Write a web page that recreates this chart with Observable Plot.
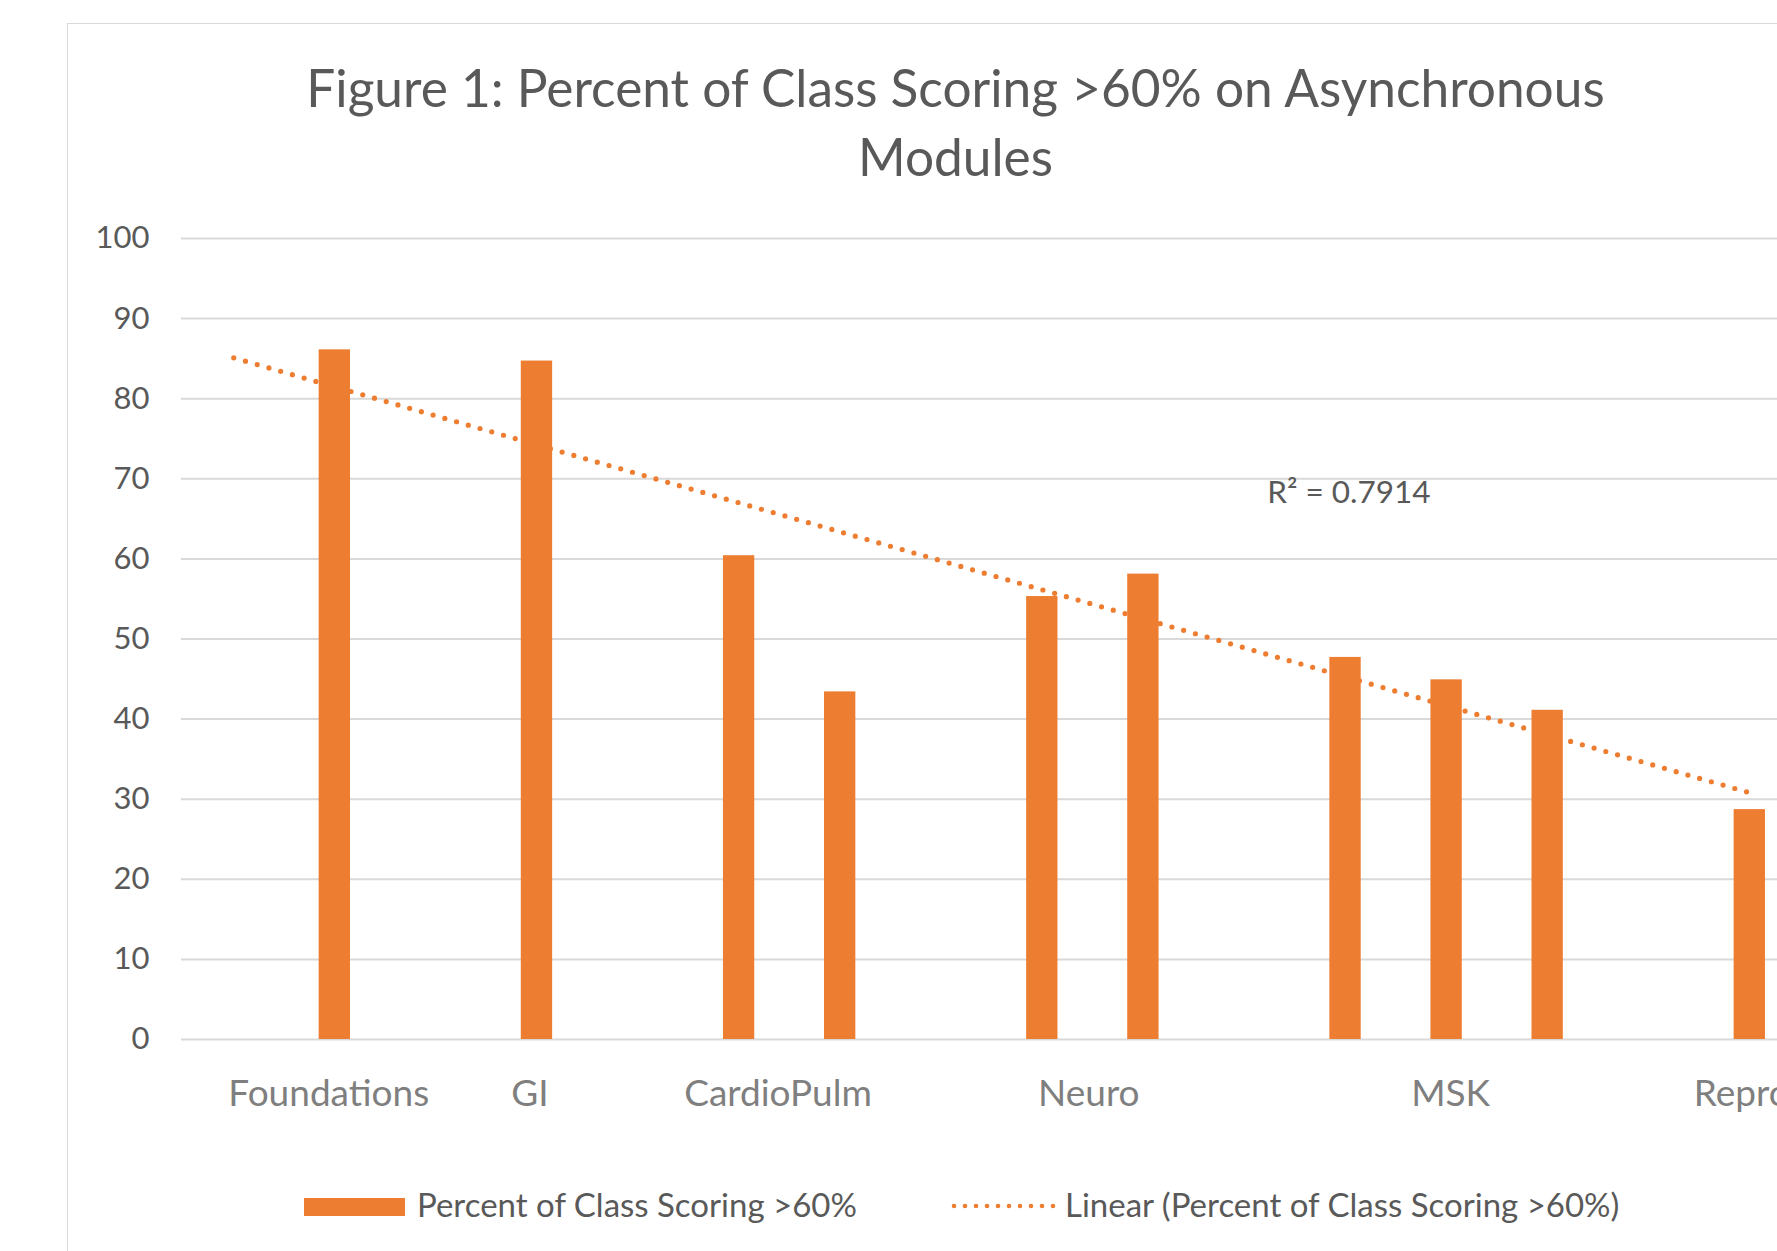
<!DOCTYPE html>
<html>
<head>
<meta charset="utf-8">
<script src="https://cdn.jsdelivr.net/npm/d3@7"></script>
<script src="https://cdn.jsdelivr.net/npm/@observablehq/plot@0.6"></script>
<style>
  html, body { margin: 0; padding: 0; background: #ffffff; overflow: hidden; }
  #wrap { position: relative; width: 1777px; height: 1251px; overflow: hidden; font-family: Lato, "Open Sans", sans-serif; background: #fff; }
  #frame { position: absolute; left: 67px; top: 23px; width: 3000px; height: 3000px; border-left: 1.8px solid #d9d9d9; border-top: 1.8px solid #d9d9d9; }
  #title { position: absolute; left: 0; top: 0; }
  #chart { position: absolute; left: 0; top: 200px; }
  #legend { position: absolute; left: 0; top: 1140px; }
  svg text { font-family: Lato, "Open Sans", sans-serif; }
</style>
</head>
<body>
<div id="wrap">
  <div id="frame"></div>
  <svg id="title" width="1777" height="200">
    <text x="955.5" y="107" text-anchor="middle" font-size="51.4" fill="#595959">Figure 1: Percent of Class Scoring &gt;60% on Asynchronous</text>
    <text x="955.5" y="176" text-anchor="middle" font-size="51.4" fill="#595959">Modules</text>
  </svg>
  <div id="chart"></div>
  <svg id="legend" width="1777" height="111">
    <rect x="304" y="58" width="101" height="18" fill="#ED7D31"></rect>
    <text x="417" y="77" font-size="33" fill="#595959">Percent of Class Scoring &gt;60%</text>
    <line x1="954" x2="1054" y1="66" y2="66" stroke="#ED7D31" stroke-width="4.6" stroke-dasharray="0 11" stroke-linecap="round"></line>
    <text x="1065" y="77" font-size="33" fill="#595959">Linear (Percent of Class Scoring &gt;60%)</text>
  </svg>
</div>
<script>
// ---- data ----
const barSlots = [0, 2, 4, 5, 7, 8, 10, 11, 12, 14];
const barValues = [86.1, 84.7, 60.4, 43.4, 55.3, 58.1, 47.7, 44.9, 41.1, 28.7];
const groupLabels = ["Foundations", "GI", "CardioPulm", "Neuro", "MSK", "Repro"];
const groupLabelSlots = [-0.06, 1.93, 4.385, 7.46, 11.04, 13.92];
const yTicks = [0, 10, 20, 30, 40, 50, 60, 70, 80, 90, 100];
const trendSlots = [-1, 14];
const trendValues = [85.1, 30.8];
const r2Text = "R² = 0.7914";

const bars = barSlots.map((s, i) => ({slot: s, value: barValues[i]}));
const groups = groupLabels.map((l, i) => ({label: l, slot: groupLabelSlots[i]}));
const trend = trendSlots.map((s, i) => ({slot: s, value: trendValues[i]}));

const orange = "#ED7D31";
const halfBar = 0.155;

const chart = Plot.plot({
  width: 1777,
  height: 940,
  marginLeft: 181,
  marginRight: 0,
  marginTop: 38,
  marginBottom: 101,
  style: {fontFamily: "Lato, 'Open Sans', sans-serif", background: "transparent", overflow: "hidden"},
  x: {domain: [-1.517, 14.274], axis: null},
  y: {domain: [0, 100], axis: null},
  marks: [
    Plot.ruleY(yTicks, {stroke: "#d9d9d9", strokeWidth: 2}),
    Plot.axisY({ticks: yTicks, tickSize: 0, tickPadding: 32, fontSize: 31, color: "#595959", label: null}),
    Plot.rectY(bars, {x1: d => d.slot - halfBar, x2: d => d.slot + halfBar, y: "value", fill: orange}),
    Plot.line(trend, {x: "slot", y: "value", stroke: orange, strokeWidth: 5.2, strokeDasharray: "0 12.2", strokeLinecap: "round"}),
    Plot.text(groups, {x: "slot", text: "label", frameAnchor: "bottom", lineAnchor: "top", dy: 40.4, fontSize: 37, fill: "#7f7f7f"}),
    Plot.text([r2Text], {x: () => 9.225, y: () => 68.2, text: d => d, textAnchor: "start", fontSize: 31.5, fill: "#595959"})
  ]
});
document.getElementById("chart").appendChild(chart);
</script>
</body>
</html>
